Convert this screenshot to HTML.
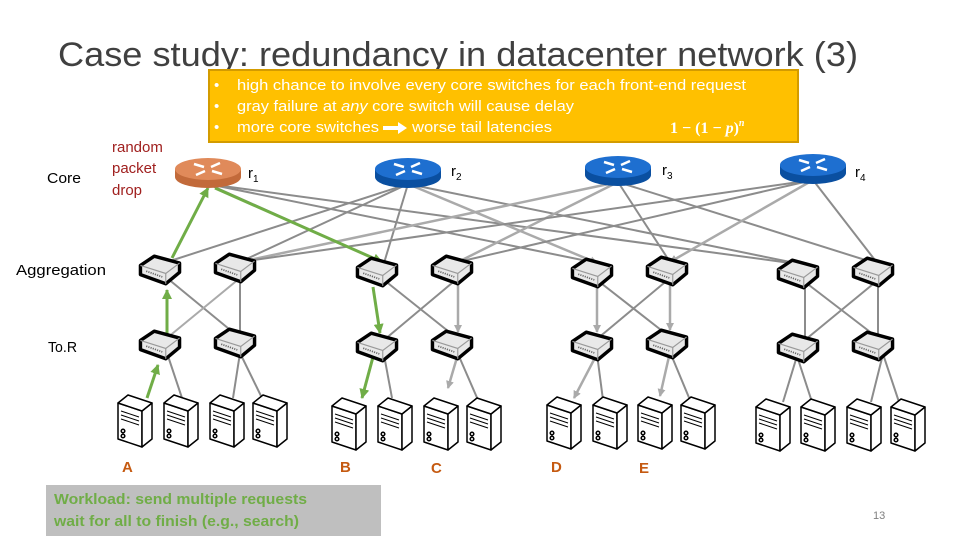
<!DOCTYPE html>
<html><head><meta charset="utf-8"><style>
body{margin:0;background:#fff;}
svg{display:block;font-family:"Liberation Sans",sans-serif;}
</style></head><body>
<svg width="960" height="540" viewBox="0 0 960 540" xmlns="http://www.w3.org/2000/svg">
<defs>
<g id="sw" transform="scale(1.15)">
<path d="M-17,-4 L-5,-12 L17,-6 L17,2 L5,12 L-17,4 Z" fill="#e8e8e8" stroke="#000" stroke-width="3" stroke-linejoin="round"/>
<path d="M-17,-4 L5,3 L17,-6" fill="none" stroke="#999" stroke-width="1"/>
<path d="M5,3 L5,12" stroke="#999" stroke-width="1"/>
<path d="M-12,1 L2,6" stroke="#666" stroke-width="1.5" stroke-dasharray="1,1"/>
</g>
<g id="sv" stroke="#000" stroke-width="1.5" fill="#fff" stroke-linejoin="round">
<path d="M0,10 L24,18 L24,54 L0,46 Z"/>
<path d="M24,18 L34,10 L34,46 L24,54 Z"/>
<path d="M0,10 L10,2 L34,10 L24,18 Z"/>
<path d="M3,18 L21,24 M3,22 L21,28 M3,26 L21,32" fill="none" stroke-width="1"/>
<circle cx="5" cy="38" r="1.8"/><circle cx="5" cy="43" r="1.8"/>
</g>
<g id="rt">
<path d="M-33,0 L-33,8 A33,11 0 0 0 33,8 L33,0 Z" fill="#0a4fa0"/>
<ellipse cx="0" cy="0" rx="33" ry="11" fill="#1e6fd0"/>
<path d="M-14,-5 L-4,-2 M14,5 L4,2 M-12,6 L-3,2 M12,-6 L3,-2" stroke="#fff" stroke-width="2.5"/>
</g>
<g id="rto">
<path d="M-33,0 L-33,8 A33,11 0 0 0 33,8 L33,0 Z" fill="#c26a3a"/>
<ellipse cx="0" cy="0" rx="33" ry="11" fill="#e08a5a"/>
<path d="M-14,-5 L-4,-2 M14,5 L4,2 M-12,6 L-3,2 M12,-6 L3,-2" stroke="#fff" stroke-width="2.5"/>
</g>
<marker id="ag" markerWidth="8" markerHeight="8" refX="7" refY="4" orient="auto" markerUnits="userSpaceOnUse"><path d="M0,0 L8,4 L0,8 Z" fill="#aaa"/></marker>
<marker id="agr" markerWidth="10" markerHeight="10" refX="9" refY="5" orient="auto" markerUnits="userSpaceOnUse"><path d="M0,0 L10,5 L0,10 Z" fill="#70ad47"/></marker>
</defs>

<text x="58" y="66" font-size="34" fill="#404040" textLength="800" lengthAdjust="spacingAndGlyphs">Case study: redundancy in datacenter network (3)</text>

<g stroke="#8c8c8c" stroke-width="2" fill="none">
<line x1="208" y1="184" x2="384" y2="263"/>
<line x1="208" y1="184" x2="597" y2="263"/>
<line x1="208" y1="184" x2="805" y2="265"/>
<line x1="408" y1="184" x2="167" y2="262"/>
<line x1="408" y1="184" x2="240" y2="262"/>
<line x1="408" y1="184" x2="384" y2="263"/>
<line x1="408" y1="184" x2="597" y2="263" marker-end="url(#ag)" stroke="#aaa" stroke-width="2.5"/>
<line x1="408" y1="184" x2="805" y2="265"/>
<line x1="618" y1="182" x2="240" y2="262" stroke="#aaa" stroke-width="2.5"/>
<line x1="618" y1="182" x2="458" y2="262" stroke="#aaa" stroke-width="2.5"/>
<line x1="618" y1="182" x2="670" y2="262"/>
<line x1="618" y1="182" x2="878" y2="264"/>
<line x1="813" y1="180" x2="240" y2="262"/>
<line x1="813" y1="180" x2="458" y2="262"/>
<line x1="813" y1="180" x2="670" y2="262" marker-end="url(#ag)" stroke="#aaa" stroke-width="2.5"/>
<line x1="813" y1="180" x2="878" y2="264"/>
</g>
<g stroke="#8c8c8c" stroke-width="2">
<line x1="167" y1="278" x2="240" y2="338"/><line x1="240" y1="278" x2="167" y2="338" stroke="#aaa"/><line x1="240" y1="278" x2="240" y2="338"/>
<line x1="384" y1="280" x2="458" y2="339"/><line x1="458" y1="278" x2="384" y2="340"/>
<line x1="458" y1="278" x2="458" y2="332" stroke="#aaa" stroke-width="2.5" marker-end="url(#ag)"/>
<line x1="597" y1="280" x2="597" y2="332" stroke="#aaa" stroke-width="2.5" marker-end="url(#ag)"/>
<line x1="670" y1="278" x2="670" y2="330" stroke="#aaa" stroke-width="2.5" marker-end="url(#ag)"/>
<line x1="597" y1="280" x2="670" y2="337"/><line x1="670" y1="278" x2="597" y2="339"/>
<line x1="805" y1="282" x2="805" y2="340"/><line x1="878" y1="280" x2="878" y2="338"/>
<line x1="805" y1="282" x2="878" y2="338"/><line x1="878" y1="280" x2="805" y2="340"/>
</g>
<g stroke="#8c8c8c" stroke-width="2">
<line x1="167" y1="353" x2="182" y2="398"/>
<line x1="240" y1="353" x2="233" y2="398"/><line x1="240" y1="353" x2="262" y2="398"/>
<line x1="384" y1="355" x2="392" y2="398"/>
<line x1="458" y1="354" x2="448" y2="388" stroke="#aaa" stroke-width="2.5" marker-end="url(#ag)"/><line x1="458" y1="354" x2="478" y2="400"/>
<line x1="597" y1="354" x2="574" y2="398" stroke="#aaa" stroke-width="2.5" marker-end="url(#ag)"/><line x1="597" y1="354" x2="603" y2="400"/>
<line x1="670" y1="352" x2="660" y2="396" stroke="#aaa" stroke-width="2.5" marker-end="url(#ag)"/><line x1="670" y1="352" x2="690" y2="400"/>
<line x1="797" y1="356" x2="783" y2="402"/><line x1="797" y1="356" x2="812" y2="402"/>
<line x1="883" y1="354" x2="871" y2="402"/><line x1="883" y1="354" x2="899" y2="402"/>
</g>
<g stroke="#70ad47" stroke-width="3" fill="none">
<line x1="147" y1="398" x2="158" y2="365" marker-end="url(#agr)"/>
<line x1="167" y1="335" x2="167" y2="290" marker-end="url(#agr)"/>
<line x1="172" y1="258" x2="208" y2="188" marker-end="url(#agr)"/>
<line x1="215" y1="188" x2="382" y2="262" marker-end="url(#agr)"/>
<line x1="373" y1="287" x2="380" y2="333" marker-end="url(#agr)"/>
<line x1="373" y1="357" x2="362" y2="398" marker-end="url(#agr)"/>
</g>

<use href="#rto" x="208" y="169"/>
<use href="#rt" x="408" y="169"/>
<use href="#rt" x="618" y="167"/>
<use href="#rt" x="813" y="165"/>

<use href="#sw" x="160" y="270"/><use href="#sw" x="235" y="268"/>
<use href="#sw" x="377" y="272"/><use href="#sw" x="452" y="270"/>
<use href="#sw" x="592" y="273"/><use href="#sw" x="667" y="271"/>
<use href="#sw" x="798" y="274"/><use href="#sw" x="873" y="272"/>
<use href="#sw" x="160" y="345"/><use href="#sw" x="235" y="343"/>
<use href="#sw" x="377" y="347"/><use href="#sw" x="452" y="345"/>
<use href="#sw" x="592" y="346"/><use href="#sw" x="667" y="344"/>
<use href="#sw" x="798" y="348"/><use href="#sw" x="873" y="346"/>

<use href="#sv" x="118" y="393"/><use href="#sv" x="164" y="393"/><use href="#sv" x="210" y="393"/><use href="#sv" x="253" y="393"/>
<use href="#sv" x="332" y="396"/><use href="#sv" x="378" y="396"/><use href="#sv" x="424" y="396"/><use href="#sv" x="467" y="396"/>
<use href="#sv" x="547" y="395"/><use href="#sv" x="593" y="395"/><use href="#sv" x="638" y="395"/><use href="#sv" x="681" y="395"/>
<use href="#sv" x="756" y="397"/><use href="#sv" x="801" y="397"/><use href="#sv" x="847" y="397"/><use href="#sv" x="891" y="397"/>

<g font-size="15" fill="#000">
<text x="47" y="183" textLength="34" lengthAdjust="spacingAndGlyphs">Core</text>
<text x="16" y="275" textLength="90" lengthAdjust="spacingAndGlyphs">Aggregation</text>
<text x="48" y="352" textLength="29" lengthAdjust="spacingAndGlyphs">To.R</text>
<text x="248" y="178">r<tspan font-size="10" dy="4">1</tspan></text>
<text x="451" y="176">r<tspan font-size="10" dy="4">2</tspan></text>
<text x="662" y="175">r<tspan font-size="10" dy="4">3</tspan></text>
<text x="855" y="177">r<tspan font-size="10" dy="4">4</tspan></text>
</g>
<g font-size="15" fill="#a0201f">
<text x="112" y="152">random</text><text x="112" y="173">packet</text><text x="112" y="195">drop</text>
</g>
<g font-size="15" fill="#c55a11" font-weight="bold">
<text x="122" y="472">A</text><text x="340" y="472">B</text><text x="431" y="473">C</text><text x="551" y="472">D</text><text x="639" y="473">E</text>
</g>

<rect x="209" y="70" width="589" height="72" fill="#ffc000" stroke="#d39b00" stroke-width="2"/>
<g font-size="15" fill="#fff">
<text x="214" y="90">•</text><text x="237" y="90" textLength="509" lengthAdjust="spacingAndGlyphs">high chance to involve every core switches for each front-end request</text>
<text x="214" y="111">•</text><text x="237" y="111" textLength="337" lengthAdjust="spacingAndGlyphs">gray failure at <tspan font-style="italic">any</tspan> core switch will cause delay</text>
<text x="214" y="132">•</text><text x="237" y="132" textLength="142" lengthAdjust="spacingAndGlyphs">more core switches</text>
<text x="412" y="132" textLength="140" lengthAdjust="spacingAndGlyphs">worse tail latencies</text>
<path d="M383,126 L398,126 L398,122 L407,128 L398,134 L398,130 L383,130 Z" fill="#fff"/>
<text x="670" y="133" font-family="Liberation Serif,serif" font-weight="bold" font-size="16">1 − (1 − <tspan font-style="italic">p</tspan>)<tspan font-size="10" dy="-7" font-style="italic">n</tspan></text>
</g>

<rect x="46" y="485" width="335" height="51" fill="#bfbfbf"/>
<g font-size="15" fill="#70ad47" font-weight="bold">
<text x="54" y="504" textLength="253" lengthAdjust="spacingAndGlyphs">Workload: send multiple requests</text>
<text x="54" y="526" textLength="245" lengthAdjust="spacingAndGlyphs">wait for all to finish (e.g., search)</text>
</g>
<text x="873" y="519" font-size="11" fill="#7f7f7f">13</text>
</svg>
</body></html>
